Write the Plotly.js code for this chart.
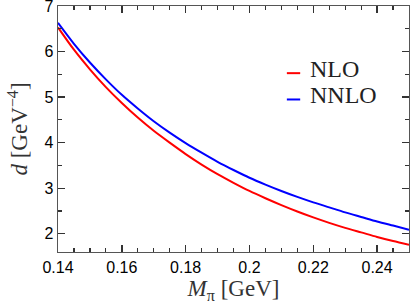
<!DOCTYPE html>
<html>
<head>
<meta charset="utf-8">
<script src="https://cdn.plot.ly/plotly-3.0.1.min.js"></script>
<style>html,body{margin:0;padding:0;background:#fff}#chart{width:411px;height:307px}</style>
</head>
<body>
<div id="chart"></div>
<script>
const mPi = [0.14,0.145,0.15,0.155,0.16,0.165,0.17,0.175,0.18,0.185,0.19,0.195,0.2,0.205,0.21,0.215,0.22,0.225,0.23,0.235,0.24,0.245,0.25];
const nlo = [6.53,6.04,5.61,5.22,4.87,4.55,4.26,4.00,3.75,3.52,3.31,3.12,2.94,2.78,2.63,2.49,2.36,2.24,2.13,2.03,1.93,1.84,1.76];
const nnlo = [6.63,6.17,5.76,5.39,5.05,4.75,4.47,4.22,3.99,3.78,3.58,3.40,3.23,3.08,2.94,2.81,2.69,2.58,2.47,2.37,2.27,2.18,2.09];
const seriesNames = ['NLO','NNLO'];
const seriesColors = ['#ff0000','#0000ff'];
const xTitle = '<i>M</i><sub>π</sub> [GeV]';
const yTitle = '<i>d</i> [GeV<sup>−4</sup>]';

const traces = [
  {x: mPi, y: nlo, name: seriesNames[0], mode: 'lines', line: {color: seriesColors[0], width: 2, shape: 'spline', smoothing: 0.8}},
  {x: mPi, y: nnlo, name: seriesNames[1], mode: 'lines', line: {color: seriesColors[1], width: 2, shape: 'spline', smoothing: 0.8}}
];
const axisCommon = {
  showgrid: false, zeroline: false, showline: true, linecolor: '#555', linewidth: 1.3,
  mirror: 'allticks', ticks: 'inside', ticklen: 7, tickcolor: '#333', tickwidth: 1.4,
  ticklabeloverflow: 'allow',
  tickfont: {family: 'Liberation Sans, Arial, sans-serif', size: 16, color: '#000'}
};
// legend drawn in paper space
const legY = [0.742, 0.638];
const legLineY = [0.727, 0.620];
const annotations = seriesNames.map((n, i) => ({
  xref: 'paper', yref: 'paper', x: 0.712, y: legY[i], xanchor: 'left', yanchor: 'middle',
  text: n, showarrow: false, font: {family: 'Liberation Serif, serif', size: 24, color: '#222'}
}));
const shapes = seriesColors.map((c, i) => ({
  type: 'line', xref: 'paper', yref: 'paper', x0: 0.652, x1: 0.690, y0: legLineY[i], y1: legLineY[i],
  line: {color: c, width: 2}
}));
const layout = {
  width: 411, height: 307,
  margin: {l: 58, r: 2, t: 6, b: 55},
  paper_bgcolor: '#fff', plot_bgcolor: '#fff',
  showlegend: false,
  annotations: annotations, shapes: shapes,
  xaxis: Object.assign({}, axisCommon, {
    range: [0.14, 0.25], dtick: 0.02, tick0: 0.14,
    minor: {dtick: 0.005, ticks: 'inside', ticklen: 4, tickcolor: '#333', tickwidth: 1.2},
    title: {text: xTitle, standoff: 5, font: {family: 'Liberation Serif, serif', size: 23, color: '#333'}}
  }),
  yaxis: Object.assign({}, axisCommon, {
    range: [1.6, 7], dtick: 1, tick0: 0,
    minor: {dtick: 0.5, ticks: 'inside', ticklen: 4, tickcolor: '#333', tickwidth: 1.2},
    title: {text: yTitle, standoff: 10, font: {family: 'Liberation Serif, serif', size: 23, color: '#333'}}
  })
};
Plotly.newPlot('chart', traces, layout, {staticPlot: true, displayModeBar: false});
</script>
</body>
</html>
